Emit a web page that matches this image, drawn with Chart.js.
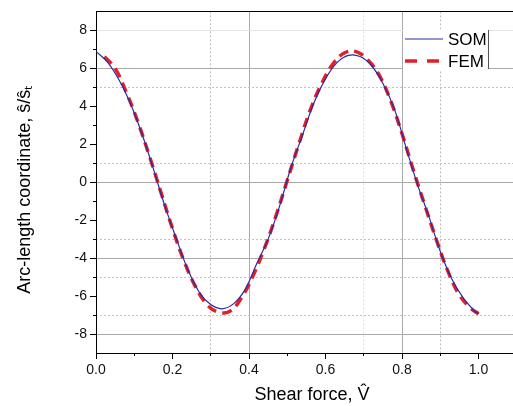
<!DOCTYPE html>
<html>
<head>
<meta charset="utf-8">
<script src="https://cdn.jsdelivr.net/npm/chart.js@4.4.1/dist/chart.umd.min.js"></script>
<style>
html,body{margin:0;padding:0;background:#fff;}
#wrap{width:513px;height:406px;position:relative;}
</style>
</head>
<body>
<div id="wrap"><canvas id="c" width="513" height="406"></canvas></div>
<script>
// ---- data ----
const somX = [0.00,0.03,0.06,0.09,0.12,0.15,0.18,0.21,0.24,0.27,0.30,0.33,0.36,0.39,0.42,0.45,0.48,0.51,0.54,0.57,0.60,0.63,0.66,0.69,0.72,0.75,0.78,0.81,0.84,0.87,0.90,0.93,0.96,0.99,1.00];
const somY = [6.89,6.33,5.40,4.15,2.55,0.70,-1.25,-2.98,-4.60,-5.80,-6.45,-6.67,-6.40,-5.65,-4.30,-3.00,-1.25,0.80,2.50,4.20,5.45,6.30,6.68,6.62,6.15,5.20,3.85,1.85,-0.10,-1.80,-3.65,-5.10,-6.10,-6.80,-6.93];
const femX = [0.022,0.05,0.08,0.11,0.14,0.17,0.20,0.23,0.26,0.29,0.32,0.35,0.38,0.41,0.44,0.47,0.50,0.53,0.56,0.59,0.62,0.65,0.68,0.71,0.74,0.77,0.80,0.83,0.86,0.89,0.92,0.95,0.98,1.00];
const femY = [6.62,6.00,4.70,3.15,1.35,-0.55,-2.45,-4.15,-5.50,-6.45,-6.85,-6.80,-6.10,-4.95,-3.50,-1.80,0.10,2.00,3.80,5.20,6.25,6.82,6.88,6.45,5.65,4.30,2.55,0.60,-1.25,-3.05,-4.70,-5.95,-6.65,-6.93];
const xMajorTicks = [0.0,0.2,0.4,0.6,0.8,1.0];
const xMinorTicks = [0.1,0.3,0.5,0.7,0.9];
const yMajorTicks = [-8,-6,-4,-2,0,2,4,6,8];
const yMinorTicks = [-7,-5,-3,-1,1,3,5,7];
const seriesNames = ['SOM','FEM'];
const xTitle = '\u00a0\u00a0\u00a0Shear force, V\u0302';
const yTitle = 'Arc-length coordinate, \u015d/\u015d\u209c\u00a0\u00a0\u00a0';

// ---- styling ----
const FONT = "'Liberation Sans', Arial, sans-serif";
const SOM_COLOR = '#2b2b9e';
const FEM_COLOR = '#e0202a';
const xSolid = [0.4, 0.8];
const xDotted = {0.3:'#bdbdbd', 0.7:'#e2e2e2', 0.9:'#bdbdbd'};
const ySolid = {6:'#a9a9a9', 0:'#a9a9a9', '-4':'#a9a9a9', '-8':'#a9a9a9', 8:'#e4e4e4'};
const yDotted = [5,1,-3,-5,-7];

function pts(xs, ys){ return xs.map((x,i)=>({x:x, y:ys[i]})); }
function setTicks(list){ return function(scale){ scale.ticks = list.map(v=>({value:v})); }; }

const legendPlugin = {
  id:'customLegend',
  afterDraw(chart){
    const ctx = chart.ctx;
    const ds = chart.data.datasets;
    ctx.save();
    ctx.fillStyle = '#fff';
    ctx.fillRect(403, 30, 86, 40);
    ctx.strokeStyle = '#555';
    ctx.lineWidth = 1;
    ctx.beginPath(); ctx.moveTo(488.5, 30); ctx.lineTo(488.5, 69); ctx.stroke();
    const rows = [39, 61];
    ds.forEach((d,i)=>{
      ctx.save();
      ctx.strokeStyle = d.borderColor;
      ctx.lineWidth = d.borderWidth;
      ctx.setLineDash(i===1 ? [12,10] : []);
      ctx.beginPath(); ctx.moveTo(405, rows[i]); ctx.lineTo(443, rows[i]); ctx.stroke();
      ctx.restore();
      ctx.fillStyle = '#000';
      ctx.font = '17px ' + FONT;
      ctx.textBaseline = 'middle';
      ctx.textAlign = 'left';
      ctx.fillText(d.label, 448, rows[i] + 1);
    });
    ctx.restore();
  }
};

new Chart(document.getElementById('c'), {
  type: 'scatter',
  data: {
    datasets: [
      { label: seriesNames[0], data: pts(somX, somY), showLine: true, borderColor: SOM_COLOR, backgroundColor: SOM_COLOR,
        borderWidth: 1.2, pointRadius: 0, tension: 0.4 },
      { label: seriesNames[1], data: pts(femX, femY), showLine: true, borderColor: FEM_COLOR, backgroundColor: FEM_COLOR,
        borderWidth: 3.5, borderDash: [10,6], pointRadius: 0, tension: 0.4 }
    ]
  },
  options: {
    responsive: false,
    animation: false,
    layout: { padding: 0 },
    plugins: { legend: { display: false }, tooltip: { enabled: false } },
    scales: {
      x: {
        type: 'linear', position: 'bottom', min: 0, max: 1.09,
        afterBuildTicks: setTicks(xMajorTicks),
        afterFit(s){ s.height = 53; },
        ticks: { color: '#111', font: { family: FONT, size: 14 }, padding: 3, maxRotation: 0,
                 callback: v => v.toFixed(1) },
        grid: { color: c => (c.tick && xSolid.includes(+c.tick.value.toFixed(2))) ? '#a9a9a9' : 'rgba(0,0,0,0)',
                tickColor: '#000', tickLength: 6, lineWidth: 1 },
        border: { color: '#000', width: 1 },
        title: { display: true, text: xTitle, color: '#000', font: { family: FONT, size: 18 }, padding: { top: 2, bottom: 0 } }
      },
      xMinor: {
        type: 'linear', axis: 'x', position: { y: -9 }, min: 0, max: 1.09,
        afterBuildTicks: setTicks(xMinorTicks),
        ticks: { display: false },
        grid: { color: c => (c.tick && xDotted[c.tick.value.toFixed(1)]) ? xDotted[c.tick.value.toFixed(1)] : 'rgba(0,0,0,0)',
                tickColor: '#000', tickLength: 3, lineWidth: 1 },
        border: { display: false, dash: [2,2] }
      },
      xTop: {
        type: 'linear', axis: 'x', position: 'top', min: 0, max: 1.09, display: true,
        afterFit(s){ s.height = 10; },
        ticks: { display: false },
        grid: { drawOnChartArea: false, drawTicks: false },
        border: { color: '#000', width: 1 }
      },
      y: {
        type: 'linear', position: 'left', min: -9, max: 9,
        afterBuildTicks: setTicks(yMajorTicks),
        afterFit(s){ s.width = 96; },
        ticks: { color: '#111', font: { family: FONT, size: 14 }, padding: 3, callback: v => String(v) },
        grid: { color: c => (c.tick && ySolid[String(c.tick.value)]) ? ySolid[String(c.tick.value)] : 'rgba(0,0,0,0)',
                tickColor: '#000', tickLength: 6, lineWidth: 1 },
        border: { color: '#000', width: 1 },
        title: { display: true, text: yTitle, color: '#000', font: { family: FONT, size: 18 }, padding: { top: 14, bottom: 0 } }
      },
      yMinor: {
        type: 'linear', axis: 'y', position: { x: 0 }, min: -9, max: 9,
        afterBuildTicks: setTicks(yMinorTicks),
        ticks: { display: false },
        grid: { color: c => (c.tick && yDotted.includes(c.tick.value)) ? '#c4c4c4' : 'rgba(0,0,0,0)',
                tickColor: '#000', tickLength: 3, lineWidth: 1 },
        border: { display: false, dash: [2,2] }
      }
    }
  },
  plugins: [legendPlugin]
});
</script>
</body>
</html>
